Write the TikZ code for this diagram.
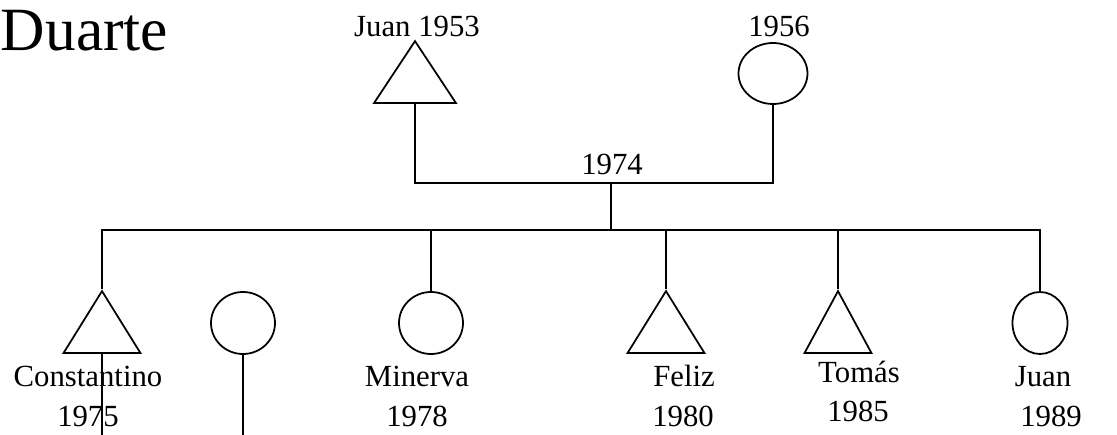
\documentclass[tikz,border=0pt]{standalone}
\usepackage{fontspec}
\setmainfont{Liberation Serif}
\usepackage{tikz}
\usetikzlibrary{shapes.geometric, positioning}

\begin{document}
\begin{tikzpicture}[
    x=0.02cm, y=-0.02cm,
    line width=1pt,
    male/.style={draw, isosceles triangle, isosceles triangle stretches,
                 shape border rotate=90, inner sep=0pt, anchor=south,
                 minimum width=#1, minimum height=62*0.02cm},
    male/.default=77*0.02cm,
    female/.style={draw, ellipse, inner sep=0pt, minimum width=#1,
                   minimum height=62*0.02cm},
    female/.default=64*0.02cm,
    personlbl/.style={anchor=base, inner sep=0pt, font=\fontsize{17.5}{21}\selectfont}
]
    \useasboundingbox (0,0) rectangle (1117,435);

    \node[anchor=base west, inner sep=0pt, font=\fontsize{35}{42}\selectfont] (family) at (0,51) {Duarte};

    % parents
    \node[male=82*0.02cm] (father) at (415,104) {};
    \node[female=69*0.02cm, minimum height=61*0.02cm] (mother) at (773,73.5) {};
    \node[personlbl] (fatherlbl) at (417,37) {Juan 1953};
    \node[personlbl] (motherlbl) at (779,37) {1956};
    \coordinate (marleft) at (415,183);
    \coordinate (marright) at (773,183);
    \coordinate (marmid) at (611,183);
    \node[personlbl] (marlbl) at (612,175) {1974};
    \draw (father.south) -- (marleft) -- (marright) -- (mother.south);

    % children
    \node[male] (constantino) at (102,354) {};
    \node[female] (unknown) at (243,323) {};
    \node[female] (minerva) at (431,323) {};
    \node[male] (feliz) at (666,354) {};
    \node[male=67*0.02cm] (tomas) at (838,354) {};
    \node[female=55*0.02cm] (juan) at (1040,323) {};

    \coordinate (sibleft) at (102,230);
    \coordinate (sibright) at (1040,230);
    \coordinate (sibmid) at (611,230);
    \draw (marmid) -- (sibmid);
    \draw (constantino.apex) -- (sibleft) -- (sibright) -- (juan.north);
    \draw (minerva.north) -- (minerva.north |- sibleft);
    \draw (feliz.apex) -- (feliz.apex |- sibleft);
    \draw (tomas.apex) -- (tomas.apex |- sibleft);

    % lines going on below
    \coordinate (constdown) at (102,435);
    \coordinate (unkdown) at (243,435);
    \draw (constantino.south) -- (constdown);
    \draw (unknown.south) -- (unkdown);

    % labels
    \node[personlbl] (constlbl) at (88,387) {Constantino};
    \node[personlbl] (constyr) at (88,427) {1975};
    \node[personlbl] (minlbl) at (417,387) {Minerva};
    \node[personlbl] (minyr) at (417,427) {1978};
    \node[personlbl] (fellbl) at (684,387) {Feliz};
    \node[personlbl] (felyr) at (683,427) {1980};
    \node[personlbl] (tomlbl) at (859,383) {Tomás};
    \node[personlbl] (tomyr) at (858,422) {1985};
    \node[personlbl] (juanlbl) at (1043,387) {Juan};
    \node[personlbl] (juanyr) at (1051,427) {1989};
\end{tikzpicture}
\end{document}
